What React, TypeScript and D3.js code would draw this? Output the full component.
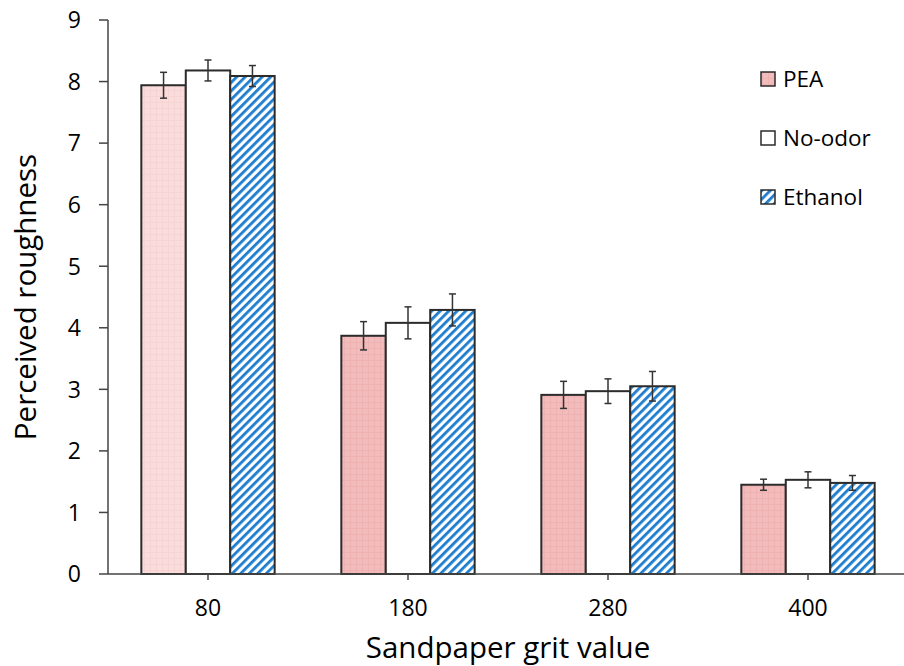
import React from "react";
import * as d3 from "d3";

// grit values on the x axis
const categories = ["80", "180", "280", "400"];
const seriesNames = ["PEA", "No-odor", "Ethanol"];

// mean perceived roughness per grit, one array per odor condition
const peaValues = [7.94, 3.87, 2.91, 1.45];
const noOdorValues = [8.18, 4.08, 2.97, 1.53];
const ethanolValues = [8.09, 4.29, 3.05, 1.48];

// error bar half-widths
const peaErrors = [0.21, 0.23, 0.22, 0.09];
const noOdorErrors = [0.17, 0.26, 0.2, 0.13];
const ethanolErrors = [0.17, 0.26, 0.24, 0.12];

const yTicks = [0, 1, 2, 3, 4, 5, 6, 7, 8, 9];

const width = 904;
const height = 666;
const margin = { top: 20, right: -4, bottom: 92, left: 108 };
const font = "'Open Sans', sans-serif";

const fills: Record<string, string> = {
  PEA: "url(#peaPattern)",
  "No-odor": "#ffffff",
  Ethanol: "url(#stripePattern)",
};

const App = () => {
  const innerW = width - margin.left - margin.right;
  const x0 = margin.left;
  const x1 = margin.left + innerW;
  const yBottom = height - margin.bottom;

  const xScale = d3.scaleBand().domain(categories).range([x0, x1]).padding(0);
  const bw = xScale.bandwidth();
  const xInner = d3.scaleBand().domain(seriesNames).range([bw / 6, (bw * 5) / 6]).padding(0);
  const yScale = d3.scaleLinear().domain([0, 9]).range([yBottom, margin.top]);

  const table = seriesNames.map((name, si) => ({
    name,
    values: [peaValues, noOdorValues, ethanolValues][si],
    errors: [peaErrors, noOdorErrors, ethanolErrors][si],
  }));

  const axisColor = "#444";
  const barStroke = "#2b2b2b";

  return (
    <div style={{ position: "absolute", left: 0, top: 0 }}>
      <svg width={width} height={height} style={{ display: "block", background: "#fff" }}>
        <defs>
          <pattern id="peaPattern" width="6" height="6" patternUnits="userSpaceOnUse">
            <rect width="6" height="6" fill="#f3bcbc" />
            <path d="M0 0.5H6M0.5 0V6" stroke="#e9a7a7" strokeWidth="1" opacity="0.5" />
          </pattern>
          <pattern id="peaLightPattern" width="6" height="6" patternUnits="userSpaceOnUse">
            <rect width="6" height="6" fill="#fadcdc" />
            <path d="M0 0.5H6M0.5 0V6" stroke="#f3c8c8" strokeWidth="1" opacity="0.4" />
          </pattern>
          <pattern
            id="stripePattern"
            width="6"
            height="6"
            patternUnits="userSpaceOnUse"
            patternTransform="rotate(45)"
          >
            <rect width="6" height="6" fill="#ffffff" />
            <rect width="2.8" height="6" fill="#1e7dcf" />
          </pattern>
        </defs>

        {/* bars */}
        {categories.map((cat, ci) => (
          <g key={cat} transform={`translate(${xScale(cat)},0)`}>
            {table.map((s) => {
              const v = s.values[ci];
              const fill = s.name === "PEA" && ci === 0 ? "url(#peaLightPattern)" : fills[s.name];
              return (
                <rect
                  key={s.name}
                  x={xInner(s.name)}
                  y={yScale(v)}
                  width={xInner.bandwidth()}
                  height={yScale(0) - yScale(v)}
                  fill={fill}
                  stroke={barStroke}
                  strokeWidth={2}
                />
              );
            })}
            {table.map((s) => {
              const v = s.values[ci];
              const e = s.errors[ci];
              const cx = (xInner(s.name) ?? 0) + xInner.bandwidth() / 2;
              return (
                <g key={s.name} stroke="#333" strokeWidth={1.5}>
                  <line x1={cx} x2={cx} y1={yScale(v + e)} y2={yScale(v - e)} />
                  <line x1={cx - 3.5} x2={cx + 3.5} y1={yScale(v + e)} y2={yScale(v + e)} />
                  <line x1={cx - 3.5} x2={cx + 3.5} y1={yScale(v - e)} y2={yScale(v - e)} />
                </g>
              );
            })}
          </g>
        ))}

        {/* y axis */}
        <line x1={x0} x2={x0} y1={margin.top} y2={yBottom} stroke={axisColor} strokeWidth={1.5} />
        {yTicks.map((t) => (
          <g key={t}>
            <line x1={x0 - 9} x2={x0} y1={yScale(t)} y2={yScale(t)} stroke={axisColor} strokeWidth={1.5} />
            <text
              x={x0 - 27}
              y={yScale(t)}
              dy="0.36em"
              textAnchor="end"
              fontFamily={font}
              fontSize={23}
              fill="#000"
            >
              {t}
            </text>
          </g>
        ))}

        {/* x axis */}
        <line x1={x0} x2={x1} y1={yBottom} y2={yBottom} stroke={axisColor} strokeWidth={1.5} />
        {categories.map((cat) => {
          const cx = (xScale(cat) ?? 0) + bw / 2;
          return (
            <g key={cat}>
              <line x1={cx} x2={cx} y1={yBottom} y2={yBottom + 6} stroke={axisColor} strokeWidth={1.5} />
              <text x={cx} y={616} textAnchor="middle" fontFamily={font} fontSize={23} fill="#000">
                {cat}
              </text>
            </g>
          );
        })}

        {/* axis titles */}
        <text
          x={(x0 + x1) / 2}
          y={658}
          textAnchor="middle"
          fontFamily={font}
          fontSize={29.5}
          fill="#000"
        >
          Sandpaper grit value
        </text>
        <text
          transform={`translate(36,${(margin.top + yBottom) / 2}) rotate(-90)`}
          textAnchor="middle"
          fontFamily={font}
          fontSize={29.5}
          fill="#000"
        >
          Perceived roughness
        </text>

        {/* legend */}
        {seriesNames.map((name, i) => {
          const ly = 79 + i * 59;
          return (
            <g key={name}>
              <rect
                x={761}
                y={ly - 7}
                width={14}
                height={14}
                fill={fills[name]}
                stroke={barStroke}
                strokeWidth={1.5}
              />
              <text x={783} y={ly} dy="0.36em" fontFamily={font} fontSize={22.5} fill="#000">
                {name}
              </text>
            </g>
          );
        })}
      </svg>
    </div>
  );
};

export default App;
